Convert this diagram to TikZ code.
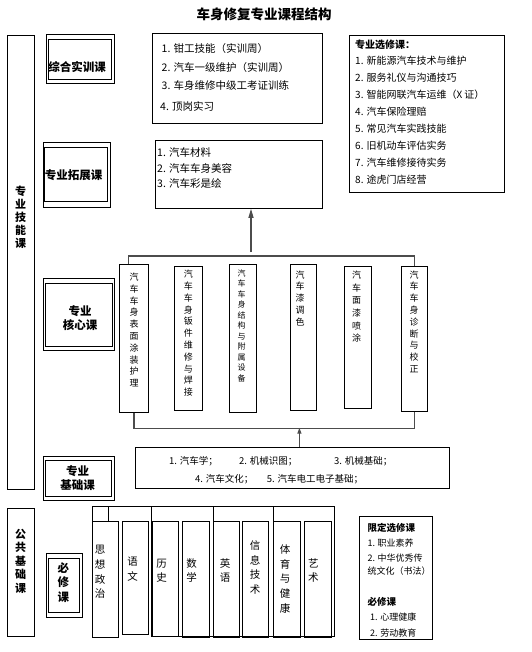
\documentclass[tikz,border=0pt]{standalone}
\usepackage{fontspec}
\setmainfont{Noto Sans CJK SC}
\usetikzlibrary{arrows.meta,positioning}

\begin{document}
\begin{tikzpicture}[x=1pt,y=-1pt,
  box/.style={draw, line width=0.8pt, inner sep=0pt, anchor=north west},
  lbl/.style={inner sep=0pt, align=center, font=\bfseries\fontsize{11.5}{14.2}\selectfont},
  item/.style={inner sep=0pt, anchor=west, font=\fontsize{10}{12}\selectfont},
  vcol/.style={inner sep=0pt, align=center, font=\fontsize{9}{11.8}\selectfont},
  pub/.style={inner sep=0pt, align=center, font=\fontsize{10.5}{14.7}\selectfont},
  conn/.style={draw=black!70, line width=1.2pt}]
\useasboundingbox (0,0) rectangle (531,652);
% Title
\node[inner sep=0pt, font=\bfseries\fontsize{13.5}{14}\selectfont] (title) at (264,14) {车身修复专业课程结构};
% Side label, skills
\node[box, minimum width=27pt, minimum height=454pt] (skill) at (7.3,35) {};
\node[lbl, font=\bfseries\fontsize{11}{13}\selectfont] (skilltxt) at (20.5,217) {专\\业\\技\\能\\课};
% Practice courses
\node[box, minimum width=68pt, minimum height=49pt] (pracout) at (46,34) {};
\node[box, minimum width=63pt, minimum height=40pt] (pracin) at (48,39) {};
\node[lbl] (practxt) at (77,67) {综合实训课};
\node[box, minimum width=170pt, minimum height=90pt] (praclist) at (152,33) {};
\node[item, font=\fontsize{10.5}{12}\selectfont] (pr1) at (161.5,48.3) {1. 钳工技能（实训周）};
\node[item, font=\fontsize{10.5}{12}\selectfont] (pr2) at (161.5,67.7) {2. 汽车一级维护（实训周）};
\node[item, font=\fontsize{10.5}{12}\selectfont] (pr3) at (161.5,86) {3. 车身维修中级工考证训练};
\node[item, font=\fontsize{10.5}{12}\selectfont] (pr4) at (160,106.7) {4. 顶岗实习};
% Extension courses
\node[box, minimum width=67pt, minimum height=65pt] (extout) at (43,142) {};
\node[box, minimum width=63pt, minimum height=54pt] (extin) at (44,147) {};
\node[lbl] (exttxt) at (73.5,175) {专业拓展课};
\node[box, minimum width=167pt, minimum height=68pt] (extlist) at (155,140) {};
\node[item, font=\fontsize{10.5}{12}\selectfont] (ex1) at (157,152.7) {1. 汽车材料};
\node[item, font=\fontsize{10.5}{12}\selectfont] (ex2) at (157,168.3) {2. 汽车车身美容};
\node[item, font=\fontsize{10.5}{12}\selectfont] (ex3) at (157,183.3) {3. 汽车彩是绘};
% Electives
\node[box, minimum width=154.7pt, minimum height=156.7pt] (elect) at (349.3,35) {};
\node[item, font=\bfseries\fontsize{10}{12}\selectfont] (el0) at (355,45) {专业选修课：};
\foreach \i/\t in {1/新能源汽车技术与维护, 2/服务礼仪与沟通技巧, 3/智能网联汽车运维（X 证）, 4/汽车保险理赔,
  5/常见汽车实践技能, 6/旧机动车评估实务, 7/汽车维修接待实务, 8/途虎门店经营}
  \node[item] (el\i) at (355,{61+17*(\i-1)}) {\i. \t};
% Core courses
\node[box, minimum width=71pt, minimum height=72pt] (coreout) at (43.3,278) {};
\node[box, minimum width=66.5pt, minimum height=63pt] (corein) at (45,283.2) {};
\node[lbl] (coretxt) at (80,317.7) {专业\\核心课};
\node[box, minimum width=29pt, minimum height=148pt] (c1) at (119,264) {};
\node[box, minimum width=28pt, minimum height=144pt] (c2) at (174,266) {};
\node[box, minimum width=27pt, minimum height=148pt] (c3) at (229,264) {};
\node[box, minimum width=25.7pt, minimum height=146pt] (c4) at (290,264) {};
\node[box, minimum width=26.7pt, minimum height=142pt] (c5) at (344,266) {};
\node[box, minimum width=26.6pt, minimum height=144.7pt] (c6) at (400.7,266) {};
\node[vcol] (c1t) at (134,330) {汽\\车\\车\\身\\表\\面\\涂\\装\\护\\理};
\node[vcol] (c2t) at (188.3,333.3) {汽\\车\\车\\身\\钣\\件\\维\\修\\与\\焊\\接};
\node[vcol, font=\fontsize{8}{10.5}\selectfont] (c3t) at (241.7,325.8) {汽\\车\\车\\身\\结\\构\\与\\附\\属\\设\\备};
\node[vcol] (c4t) at (300,298.3) {汽\\车\\漆\\调\\色};
\node[vcol, font=\fontsize{9}{12.7}\selectfont] (c5t) at (356.7,306.7) {汽\\车\\面\\漆\\喷\\涂};
\node[vcol] (c6t) at (414,321.7) {汽\\车\\车\\身\\诊\\断\\与\\校\\正};
\draw[conn] ([xshift=-5.5pt]c1.north) -- ++(0,-8) -| (c6.north);
\draw[conn] (c1.south) -- ++(0,15.7) -| (c6.south);
\coordinate (a1) at (251,252);
\draw[conn, -{Triangle[length=9pt,width=5pt]}] (a1) -- (a1 |- extlist.south);
% Basic courses
\node[box, minimum width=71pt, minimum height=44pt] (basout) at (43.3,455.6) {};
\node[box, minimum width=66pt, minimum height=35.5pt] (basin) at (45,460) {};
\node[lbl] (bastxt) at (77.7,478) {专业\\基础课};
\node[box, minimum width=314pt, minimum height=41.6pt] (baslist) at (135,446.7) {};
\draw[conn, -{Triangle[length=6pt,width=4pt]}] ([xshift=7pt]baslist.north) -- ++(0,-19);
\node[item, font=\fontsize{9.5}{12}\selectfont] (b1) at (169,461.7) {1. 汽车学；};
\node[item, font=\fontsize{9.5}{12}\selectfont] (b2) at (239,461.7) {2. 机械识图；};
\node[item, font=\fontsize{9.5}{12}\selectfont] (b3) at (334,461.7) {3. 机械基础；};
\node[item, font=\fontsize{9.5}{12}\selectfont] (b4) at (195,479) {4. 汽车文化；};
\node[item, font=\fontsize{9.5}{12}\selectfont] (b5) at (266.7,479) {5. 汽车电工电子基础；};
% Public courses
\node[box, minimum width=27pt, minimum height=127.7pt] (public) at (7.3,508.3) {};
\node[lbl, font=\bfseries\fontsize{11}{13.5}\selectfont] (publictxt) at (20.7,561.3) {公\\共\\基\\础\\课};
\node[box, minimum width=35.7pt, minimum height=63.4pt] (reqout) at (46,553.3) {};
\node[box, minimum width=31pt, minimum height=54pt] (reqin) at (48.3,558.3) {};
\node[lbl] (reqtxt) at (63.3,582.5) {必\\修\\课};
\draw[line width=0.8pt] (92.3,521) -- (92.3,506.7) -- (334.3,506.7) -- (334.3,636.7) -- (151.7,636.7) -- (151.7,506.7);
\foreach \x in {108.3} \draw[line width=0.8pt] (\x,506.7) -- (\x,521);
\foreach \x in {213.3,273.3} \draw[line width=0.8pt] (\x,506.7) -- (\x,636.7);
\foreach \n/\xa/\xb/\yb/\tx/\ty/\t in {1/92.3/118.3/636.7/100/572/思\\想\\政\\治, 2/122.3/148.3/634.3/132.5/569/语\\文,
  3/151.7/178.3/636/161.7/570.8/历\\史, 4/182.3/209.3/636.7/191.7/570.5/数\\学, 5/213.3/239.3/636.7/225/570.5/英\\语,
  6/242.3/268.3/636.7/255/567.5/信\\息\\技\\术, 7/273.3/300/636.7/285/579/体\\育\\与\\健\\康, 8/304/330.7/636.7/313.3/570.5/艺\\术}
{
  \node[box, minimum width={\xb-\xa}, minimum height={\yb-521}] (p\n) at (\xa,521) {};
  \node[pub] (pt\n) at (\tx,\ty) {\t};
}
\node[box, minimum width=73.3pt, minimum height=123.3pt] (limited) at (359,516) {};
\node[item, font=\bfseries\fontsize{9.5}{12}\selectfont] (li0) at (367.3,528.3) {限定选修课};
\node[item, font=\fontsize{9}{12}\selectfont] (li1) at (367.3,543.3) {1. 职业素养};
\node[item, font=\fontsize{9}{12}\selectfont] (li2) at (367.3,558.3) {2. 中华优秀传};
\node[item, font=\fontsize{9}{12}\selectfont] (li3) at (367.3,571.3) {统文化（书法）};
\node[item, font=\bfseries\fontsize{9.5}{12}\selectfont] (li4) at (367.3,601.7) {必修课};
\node[item, font=\fontsize{9}{12}\selectfont] (li5) at (370,616.7) {1. 心理健康};
\node[item, font=\fontsize{9}{12}\selectfont] (li6) at (370,632.7) {2. 劳动教育};
\end{tikzpicture}
\end{document}
